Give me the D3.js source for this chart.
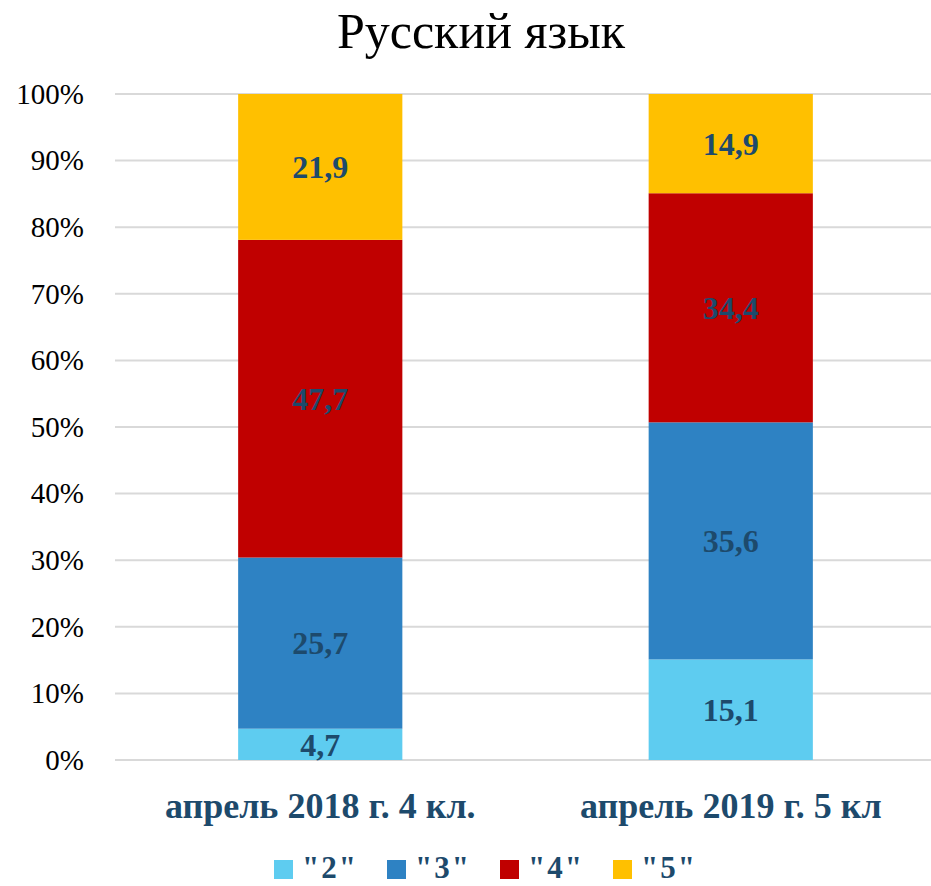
<!DOCTYPE html>
<html>
<head>
<meta charset="utf-8">
<script src="https://cdn.jsdelivr.net/npm/d3@7"></script>
<style>
  body { margin: 0; background: #fff; overflow: hidden; }
  svg text { font-family: "Liberation Serif", "Times New Roman", serif; }
</style>
</head>
<body>
<svg class="chart"></svg>
<script>
var categories = ['апрель 2018 г. 4 кл.', 'апрель 2019 г. 5 кл'];
var seriesNames = ['"2"', '"3"', '"4"', '"5"'];
var seriesColors = ['#5ECCF0', '#2E82C3', '#C00000', '#FFC000'];
var grade2 = [4.7, 15.1];
var grade3 = [25.7, 35.6];
var grade4 = [47.7, 34.4];
var grade5 = [21.9, 14.9];
var yTicks = [0, 10, 20, 30, 40, 50, 60, 70, 80, 90, 100];

var svgwidth = 931;
var svgheight = 886;

var margins = {
  top: 94,
  bottom: 126,
  left: 115,
  right: -5
};

var width = svgwidth - margins.left - margins.right;
var height = svgheight - margins.top - margins.bottom;

var svg = d3.select('.chart')
            .attr('width', svgwidth)
            .attr('height', svgheight);

var rows = categories.map(function(c, i){
  return {cat: c, s0: grade2[i], s1: grade3[i], s2: grade4[i], s3: grade5[i]};
});

var stack = d3.stack().keys(['s0', 's1', 's2', 's3']);
var layers = stack(rows);

var xScale = d3.scaleBand()
               .domain(categories)
               .range([0, width])
               .paddingInner(0.6)
               .paddingOuter(0.3);

var yScale = d3.scaleLinear()
               .domain([0, 100])
               .range([height, 0]);

var plot = svg.append('g')
              .attr('transform', 'translate(' + margins.left + ',' + margins.top + ')');

// gridlines
plot.append('g').classed('grid', true)
    .selectAll('line').data(yTicks).enter()
    .append('line')
    .attr('x1', 0)
    .attr('x2', width)
    .attr('y1', function(d){ return yScale(d); })
    .attr('y2', function(d){ return yScale(d); })
    .attr('stroke', '#D9D9D9')
    .attr('stroke-width', 2);

// y axis labels
var yAxis = d3.axisLeft(yScale)
              .tickValues(yTicks)
              .tickSize(0)
              .tickPadding(31)
              .tickFormat(function(d){ return d + '%'; });

var yg = plot.append('g').classed('yAxis', true).call(yAxis);
yg.select('.domain').remove();
yg.selectAll('text')
  .attr('font-size', '29px')
  .attr('fill', '#000')
  .style('font-family', '"Liberation Serif", serif');

// bars
var groups = plot.selectAll('.layer').data(layers).enter()
                 .append('g')
                 .classed('layer', true)
                 .attr('fill', function(d, i){ return seriesColors[i]; });

groups.selectAll('rect').data(function(d){ return d; }).enter()
      .append('rect')
      .attr('x', function(d){ return xScale(d.data.cat); })
      .attr('width', xScale.bandwidth())
      .attr('y', function(d){ return yScale(d[1]); })
      .attr('height', function(d){ return yScale(d[0]) - yScale(d[1]); });

// data labels
groups.selectAll('text').data(function(d){ return d; }).enter()
      .append('text')
      .attr('x', function(d){ return xScale(d.data.cat) + xScale.bandwidth() / 2; })
      .attr('y', function(d){ return (yScale(d[0]) + yScale(d[1])) / 2; })
      .attr('dy', '0.35em')
      .attr('text-anchor', 'middle')
      .attr('font-size', '32px')
      .attr('font-weight', 'bold')
      .attr('fill', '#1D4A6C')
      .text(function(d){ return String(Math.round((d[1] - d[0]) * 10) / 10).replace('.', ','); });

// x axis labels
var xAxis = d3.axisBottom(xScale).tickSize(0).tickPadding(32);
var xg = plot.append('g').classed('xAxis', true)
             .attr('transform', 'translate(0,' + height + ')')
             .call(xAxis);
xg.select('.domain').remove();
xg.selectAll('text')
  .attr('font-size', '36px')
  .attr('font-weight', 'bold')
  .attr('fill', '#1D4A6C')
  .style('font-family', '"Liberation Serif", serif');

// title
svg.append('text')
   .attr('x', 481)
   .attr('y', 48)
   .attr('text-anchor', 'middle')
   .attr('font-size', '50px')
   .attr('fill', '#000')
   .text('Русский язык');

// legend
var legend = svg.append('g').classed('legend', true)
                .attr('transform', 'translate(274,860)');

var items = legend.selectAll('g').data(seriesNames).enter()
                  .append('g')
                  .attr('transform', function(d, i){ return 'translate(' + (i * 113) + ',0)'; });

items.append('rect')
     .attr('width', 19)
     .attr('height', 19)
     .attr('fill', function(d, i){ return seriesColors[i]; });

items.append('text')
     .attr('x', 28)
     .attr('y', 18)
     .attr('font-size', '31px')
     .attr('font-weight', 'bold')
     .attr('letter-spacing', '2px')
     .attr('fill', '#1D4A6C')
     .text(function(d){ return d; });
</script>
</body>
</html>
